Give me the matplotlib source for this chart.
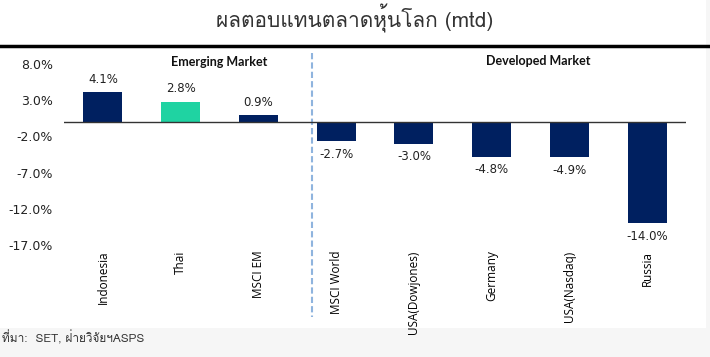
import matplotlib
matplotlib.use('Agg')
import matplotlib.pyplot as plt
from matplotlib import font_manager
from matplotlib.ft2font import FT2Font
from matplotlib.patches import Rectangle

# find some installed font that has Thai glyphs
thai_font = None
for f in font_manager.fontManager.ttflist:
    try:
        if FT2Font(f.fname).get_char_index(ord('ผ')) != 0:
            thai_font = f.name
            break
    except Exception:
        pass
thai_family = [thai_font, 'DejaVu Sans'] if thai_font else ['DejaVu Sans']

markets = ['Indonesia', 'Thai', 'MSCI EM', 'MSCI World', 'USA(Dowjones)',
           'Germany', 'USA(Nasdaq)', 'Russia']
returns = [4.1, 2.8, 0.9, -2.7, -3.0, -4.8, -4.9, -14.0]
yticks = [8.0, 3.0, -2.0, -7.0, -12.0, -17.0]
title = 'ผลตอบแทนตลาดหุ้นโลก (mtd)'
source = 'ที่มา:  SET, ฝ่ายวิจัยฯASPS'

navy = '#002060'
teal = '#1fd3a2'
colors = [teal if m == 'Thai' else navy for m in markets]

W, H = 710, 357
fig = plt.figure(figsize=(W/100, H/100), dpi=100, facecolor='#f6f6f6')
fig.patches.append(Rectangle((0, 29/H), 706/W, 1 - 29/H, transform=fig.transFigure,
                             facecolor='white', edgecolor='none', zorder=-5))

# axes: x 64..686 px, y 8% at 64 px, -17% at 245 px
ax = fig.add_axes([64/W, 1 - 245/H, (686-64)/W, (245-64)/H])
ax.set_facecolor('none')
x = range(len(markets))
ax.bar(x, returns, width=0.5, color=colors, zorder=2)
ax.axhline(0, color='#333333', lw=1, zorder=3)
ax.set_xlim(-0.5, len(markets) - 0.5)
ax.set_ylim(-17, 8)
ax.set_yticks(yticks)
ax.set_yticklabels(['%.1f%%' % v for v in yticks], fontsize=9, color='#222222',
                   fontfamily='DejaVu Sans')
ax.set_xticks(list(x))
ax.set_xticklabels(markets, rotation=90, fontsize=8.5, fontfamily='Open Sans', va='top')
ax.tick_params(length=0, axis='y', pad=8)
ax.tick_params(length=0, axis='x', pad=4)
for s in ax.spines.values():
    s.set_visible(False)

for i, v in enumerate(returns):
    if v >= 0:
        ax.text(i, v + 0.9, '%.1f%%' % v, ha='center', va='bottom', fontsize=8.5,
                fontfamily='DejaVu Sans', color='#222222')
    else:
        ax.text(i, v - 0.9, '%.1f%%' % v, ha='center', va='top', fontsize=8.5,
                fontfamily='DejaVu Sans', color='#222222')

# dashed divider between emerging and developed
ax.plot([2.69, 2.69], [9.5, -27.0], ls=(0, (3, 1.5)), color='#8fb4de', lw=1.5,
        clip_on=False, zorder=1)
ax.text(1.5, 8.3, 'Emerging Market', ha='center', va='center', fontsize=9,
        fontweight='bold', fontfamily='Lato', color='#111111')
ax.text(5.6, 8.4, 'Developed Market', ha='center', va='center', fontsize=9,
        fontweight='bold', fontfamily='Lato', color='#111111')

# top rule and titles
fig.add_artist(plt.Line2D([0, 1], [1 - 46/H, 1 - 46/H], color='black', lw=2.5))
fig.text(355/W, 1 - 18/H, title, ha='center', va='center', fontsize=15,
         family=thai_family, color='#333333')
fig.text(2/W, 1 - 337/H, source, ha='left', va='center', fontsize=8.5,
         family=thai_family, color='#333333')

fig.savefig('out.png', dpi=100, facecolor=fig.get_facecolor())
